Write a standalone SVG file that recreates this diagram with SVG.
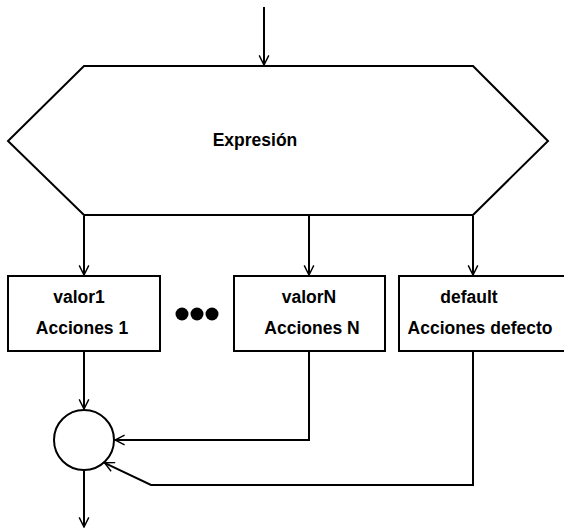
<svg xmlns="http://www.w3.org/2000/svg" width="564" height="529" viewBox="0 0 564 529">
<style>
.shape{fill:#fff;stroke:#000;stroke-width:2}
.line{fill:none;stroke:#000;stroke-width:2}
.t{font-family:"Liberation Sans",Arial,sans-serif;font-weight:bold;font-size:17.5px;fill:#000;text-anchor:middle}
</style>
<defs>
<marker id="arr" markerUnits="userSpaceOnUse" markerWidth="12" markerHeight="12" refX="9" refY="5" orient="auto" viewBox="0 0 10 10">
<path d="M1,1 L9,5 L1,9" fill="none" stroke="#000" stroke-width="1.2"/>
</marker>
</defs>
<rect width="564" height="529" fill="#fff"/>
<g id="expresion">
<polygon class="shape" points="84,66 473,66 548,141 473,215 84,215 8,141"/>
<text class="t" x="255" y="146">Expresión</text>
</g>
<g id="valor1">
<rect class="shape" x="8" y="276" width="152" height="75"/>
<text class="t" x="79" y="303">valor1</text>
<text class="t" x="82" y="334">Acciones 1</text>
</g>
<g id="dots">
<circle cx="182" cy="314" r="6.5" fill="#000"/>
<circle cx="197" cy="314" r="6.5" fill="#000"/>
<circle cx="212" cy="314" r="6.5" fill="#000"/>
</g>
<g id="valorN">
<rect class="shape" x="234" y="276" width="151" height="75"/>
<text class="t" x="309" y="303">valorN</text>
<text class="t" x="312" y="334">Acciones N</text>
</g>
<g id="default">
<rect class="shape" x="399" y="276" width="170" height="75"/>
<text class="t" x="469" y="303">default</text>
<text class="t" x="480" y="334">Acciones defecto</text>
</g>
<g id="merge">
<circle class="shape" cx="84" cy="440" r="30"/>
</g>
<g id="connectors">
<line class="line" x1="264" y1="7" x2="264" y2="65" marker-end="url(#arr)"/>
<line class="line" x1="84" y1="216" x2="84" y2="275" marker-end="url(#arr)"/>
<line class="line" x1="309" y1="216" x2="309" y2="275" marker-end="url(#arr)"/>
<line class="line" x1="473" y1="216" x2="473" y2="275" marker-end="url(#arr)"/>
<line class="line" x1="84" y1="352" x2="84" y2="409" marker-end="url(#arr)"/>
<polyline class="line" points="309,352 309,440 115,440" marker-end="url(#arr)"/>
<polyline class="line" points="473,352 473,485 151,485 104.5,462.8" marker-end="url(#arr)"/>
<line class="line" x1="84" y1="471" x2="84" y2="527" marker-end="url(#arr)"/>
</g>
</svg>
